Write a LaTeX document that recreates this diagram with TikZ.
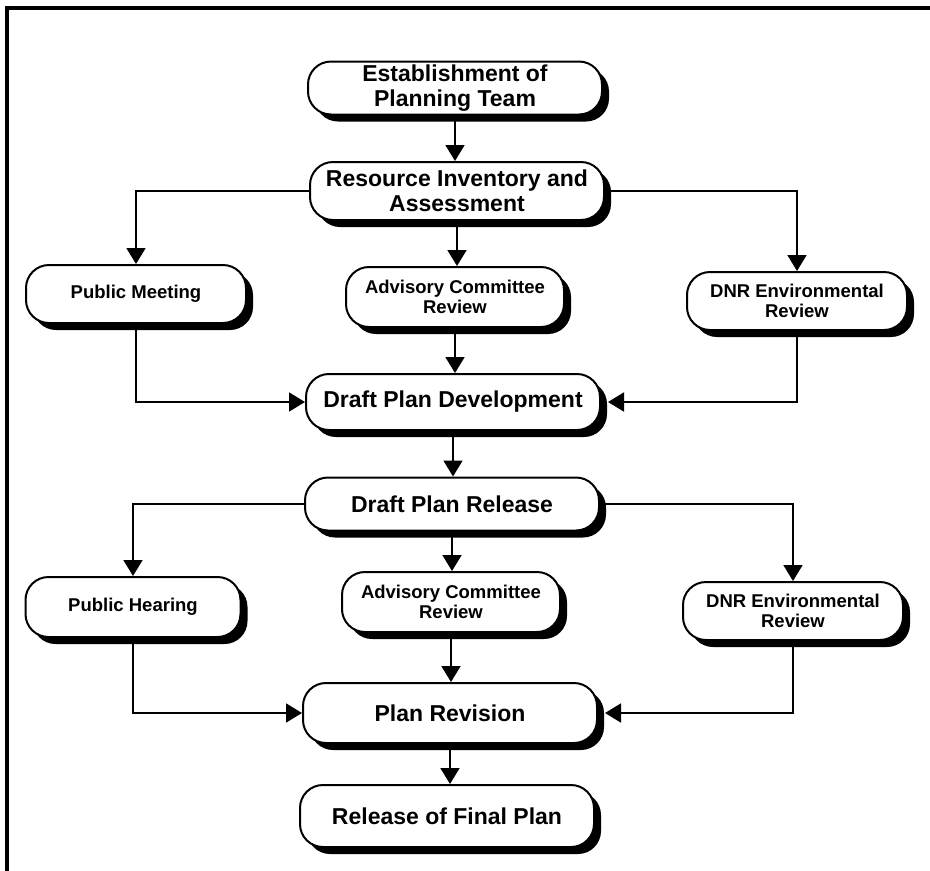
\documentclass[tikz,border=0pt]{standalone}
\usepackage{fontspec}
\setmainfont{Liberation Sans}
\usepackage{tikz}
\usetikzlibrary{arrows.meta,shadows}

\begin{document}
\begin{tikzpicture}[x=1pt,y=-1pt,
	box/.style={draw, line width=2pt, rounded corners=23pt, fill=white, align=center, inner sep=0pt,
		drop shadow={shadow xshift=7pt, shadow yshift=-7pt, fill=black, opacity=1}},
	bigbox/.style={box, minimum width=294pt, minimum height=56pt, font=\bfseries\fontsize{23}{25}\selectfont},
	smallbox/.style={box, minimum width=220pt, minimum height=58pt, font=\bfseries\fontsize{18.5}{20.5}\selectfont},
	arr/.style={line width=1.8pt, -{Triangle[width=19pt,length=16pt]}}]
		\useasboundingbox (0,0) rectangle (930,871);
		\draw[line width=3.5pt] (7,871) -- (7,8) -- (930,8);
		
		\node[bigbox, minimum height=53pt] (est) at (455,88) {Establishment of\\Planning Team};
		\node[bigbox, minimum height=58pt] (res) at (457,191) {Resource Inventory and\\Assessment};
		
		\node[smallbox] (pm) at (136,294) {Public Meeting};
		\node[smallbox, minimum width=218pt, minimum height=60pt] (acr) at (455,297) {Advisory Committee\\Review};
		\node[smallbox] (dnr) at (797,301) {DNR Environmental\\Review};
		
		\node[bigbox] (dpd) at (453,402) {Draft Plan Development};
		\node[bigbox, minimum height=53pt] (dpr) at (452,504) {Draft Plan Release};
		
		\node[smallbox, minimum width=215pt, minimum height=60pt] (ph) at (133,607) {Public Hearing};
		\node[smallbox, minimum width=218pt, minimum height=60pt] (acrb) at (451,602) {Advisory Committee\\Review};
		\node[smallbox] (dnrb) at (793,611) {DNR Environmental\\Review};
		
		\node[bigbox, minimum height=60pt] (rev) at (450,713) {Plan Revision};
		\node[bigbox, minimum height=62pt] (fin) at (447,816) {Release of Final Plan};
		
		\draw[arr] (est.south) -- (est.south |- res.north);
		\draw[arr] (res.west) -| (pm.north);
		\draw[arr] (res.south) -- (res.south |- acr.north);
		\draw[arr] (res.east) -| (dnr.north);
		\draw[arr] (pm.south) |- (dpd.west);
		\draw[arr] (acr.south) -- (acr.south |- dpd.north);
		\draw[arr] (dnr.south) |- ([xshift=7pt]dpd.east);
		
		\draw[arr] (dpd.south) -- (dpd.south |- dpr.north);
		\draw[arr] (dpr.west) -| (ph.north);
		\draw[arr] (dpr.south) -- (dpr.south |- acrb.north);
		\draw[arr] (dpr.east) -| (dnrb.north);
		\draw[arr] (ph.south) |- (rev.west);
		\draw[arr] (acrb.south) -- (acrb.south |- rev.north);
		\draw[arr] (dnrb.south) |- ([xshift=7pt]rev.east);
		\draw[arr] (rev.south) -- (rev.south |- fin.north);
	\end{tikzpicture}
\end{document}
